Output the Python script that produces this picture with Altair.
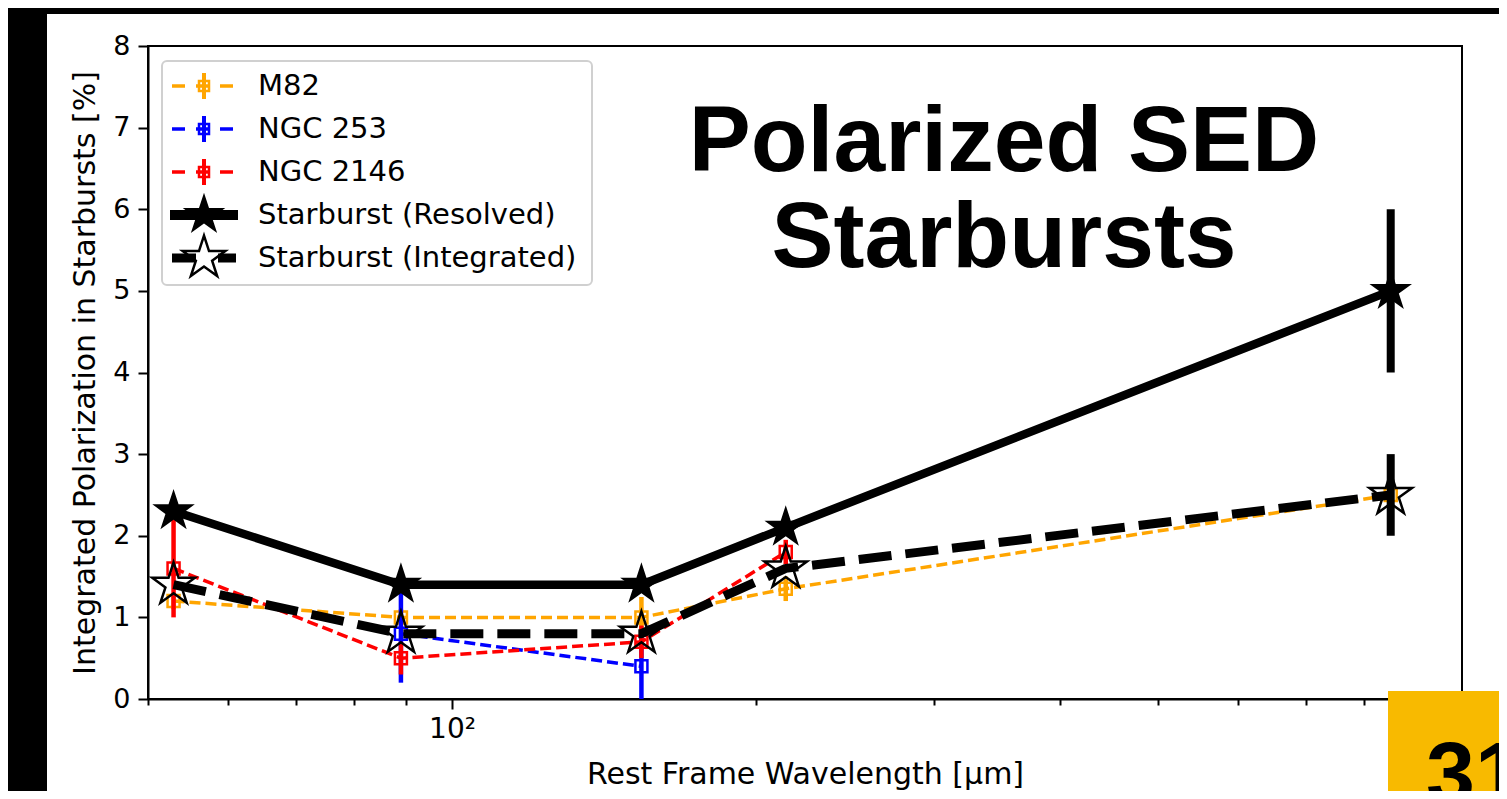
import altair as alt
import pandas as pd

# ---------------- data ----------------
m82_wl = [53, 89, 154, 214, 850]
m82_pol = [1.2, 1.0, 1.0, 1.35, 2.5]
m82_err = [0.1, 0.1, 0.25, 0.15, 0.1]

ngc253_wl = [89, 154]
ngc253_pol = [0.8, 0.4]
ngc253_err = [0.6, 0.4]

ngc2146_wl = [53, 89, 154, 214]
ngc2146_pol = [1.6, 0.5, 0.7, 1.8]
ngc2146_err = [0.6, 0.2, 0.2, 0.15]

resolved_wl = [53, 89, 154, 214, 850]
resolved_pol = [2.3, 1.4, 1.4, 2.1, 5.0]
resolved_err = [0, 0, 0, 0, 1.0]

integrated_wl = [53, 89, 154, 214, 850]
integrated_pol = [1.4, 0.8, 0.8, 1.6, 2.5]
integrated_err = [0, 0, 0, 0, 0.5]

series_names = ["M82", "NGC 253", "NGC 2146", "Starburst (Resolved)", "Starburst (Integrated)"]
series_colors = ["#FFA500", "#0000FF", "#FF0000", "#000000", "#000000"]

x_tick_values = [50, 60, 70, 80, 90, 100, 200, 300, 400, 500, 600, 700, 800, 900]
y_tick_values = [0, 1, 2, 3, 4, 5, 6, 7, 8]

title_text = "Polarized SED\nStarbursts"
slide_number = "31"
x_title = "Rest Frame Wavelength [μm]"
y_title = "Integrated Polarization in Starbursts [%]"

# ---------------- table ----------------
rows = []
for name, wls, pols, errs in zip(
    series_names,
    [m82_wl, ngc253_wl, ngc2146_wl, resolved_wl, integrated_wl],
    [m82_pol, ngc253_pol, ngc2146_pol, resolved_pol, integrated_pol],
    [m82_err, ngc253_err, ngc2146_err, resolved_err, integrated_err],
):
    for w, p, e in zip(wls, pols, errs):
        rows.append(dict(name=name, wl=w, pol=p, err=e, lo=p - e, hi=p + e))
df = pd.DataFrame(rows)
leg_df = pd.DataFrame({"name": series_names})

FONT = "DejaVu Sans"
STAR = ("M0,-1L0.2245,-0.309L0.9511,-0.309L0.3633,0.118L0.5878,0.809L0,0.382"
        "L-0.5878,0.809L-0.3633,0.118L-0.9511,-0.309L-0.2245,-0.309Z")

xscale = alt.Scale(type="log", domain=[50, 1000], nice=False)
yscale = alt.Scale(domain=[0, 8], nice=False, zero=False)

xaxis = alt.Axis(
    values=x_tick_values,
    labelExpr="datum.value == 100 ? '10²' : ''",
    tickSize={"condition": {"test": "datum.value == 100", "value": 10}, "value": 6},
    labelFontSize=28, titleFontSize=30, labelPadding=6, titlePadding=16,
    labelFlush=False, grid=False,
)
yaxis = alt.Axis(
    values=y_tick_values, tickSize=10, labelFontSize=27, titleFontSize=30,
    labelPadding=8, titlePadding=12, grid=False,
)


def X():
    return alt.X("wl:Q", scale=xscale, axis=xaxis, title=x_title)


def Y(field):
    return alt.Y(f"{field}:Q", scale=yscale, axis=yaxis, title=y_title)


def series(name, color, dash, lw, ew, marker):
    base = alt.Chart(df).transform_filter(alt.datum.name == name)
    err = base.transform_filter(alt.datum.err > 0).mark_rule(
        color=color, strokeWidth=ew
    ).encode(x=X(), y=Y("lo"), y2="hi:Q")
    line_kw = dict(color=color, strokeWidth=lw, strokeJoin="round")
    if dash:
        line_kw["strokeDash"] = dash
    line = base.mark_line(**line_kw).encode(x=X(), y=Y("pol"), order="wl:Q")
    if marker == "square":
        pts = base.mark_point(shape="square", size=144, filled=False, strokeWidth=2.5,
                              color=color, opacity=1)
    elif marker == "star_filled":
        pts = base.mark_point(shape=STAR, size=2000, filled=True, color=color, opacity=1)
    else:
        pts = base.mark_point(shape=STAR, size=2000, filled=False, strokeWidth=2.5,
                              color=color, opacity=1)
    pts = pts.encode(x=X(), y=Y("pol"))
    return [err, line, pts]


data_layers = []
data_layers += series(series_names[0], series_colors[0], [11, 5], 3.5, 4.5, "square")
data_layers += series(series_names[1], series_colors[1], [11, 5], 3.5, 4.5, "square")
data_layers += series(series_names[2], series_colors[2], [11, 5], 3.5, 4.5, "square")
data_layers += series(series_names[3], series_colors[3], None, 8.5, 8, "star_filled")
data_layers += series(series_names[4], series_colors[4], [33, 14], 9, 8, "star_open")
data_group = alt.layer(*data_layers)

# ---------------- legend ----------------
LY = alt.Y("name:N", scale=alt.Scale(type="point", domain=series_names, range=[40, 212], padding=0),
           axis=None)
LC = alt.Color("name:N", scale=alt.Scale(domain=series_names, range=series_colors), legend=None)
one = alt.Data(values=[{}])
lbase = alt.Chart(leg_df)
gal = alt.FieldOneOfPredicate(field="name", oneOf=series_names[:3])

frame = alt.Chart(one).mark_rect(fill="white", stroke="#d0d0d0", strokeWidth=2, cornerRadius=5).encode(
    x=alt.value(14), x2=alt.value(444), y=alt.value(15), y2=alt.value(239))
gal_lines = lbase.transform_filter(gal).mark_rule(strokeDash=[13, 11], strokeWidth=3.5).encode(
    x=alt.value(24), x2=alt.value(88), y=LY, color=LC)
res_line = lbase.transform_filter(alt.datum.name == series_names[3]).mark_rule(strokeWidth=10).encode(
    x=alt.value(22), x2=alt.value(90), y=LY, color=LC)
int_line = lbase.transform_filter(alt.datum.name == series_names[4]).mark_rule(
    strokeWidth=9, strokeDash=[24, 22]).encode(x=alt.value(24), x2=alt.value(88), y=LY, color=LC)
gal_err = lbase.transform_filter(gal).mark_point(shape="stroke", angle=90, size=676, strokeWidth=4,
                                                 filled=False, opacity=1).encode(
    x=alt.value(56), y=LY, color=LC)
gal_sq = lbase.transform_filter(gal).mark_point(shape="square", size=100, strokeWidth=2.5,
                                                filled=False, opacity=1).encode(
    x=alt.value(56), y=LY, color=LC)
res_star = lbase.transform_filter(alt.datum.name == series_names[3]).mark_point(
    shape=STAR, size=2000, filled=True, opacity=1).encode(x=alt.value(56), y=LY, color=LC)
int_star = lbase.transform_filter(alt.datum.name == series_names[4]).mark_point(
    shape=STAR, size=2000, filled=False, strokeWidth=2.5, opacity=1).encode(x=alt.value(56), y=LY, color=LC)
leg_text = lbase.mark_text(align="left", baseline="middle", font=FONT, fontSize=29, color="black").encode(
    x=alt.value(110), y=LY, text="name:N")
legend_group = alt.layer(frame, gal_lines, res_line, int_line, gal_err, gal_sq, res_star, int_star, leg_text)

# ---------------- slide decorations ----------------
top_band = alt.Chart(one).mark_rect(color="black").encode(
    x=alt.value(-140), x2=alt.value(1351), y=alt.value(-38), y2=alt.value(-32))
left_band = alt.Chart(one).mark_rect(color="black").encode(
    x=alt.value(-140), x2=alt.value(-101), y=alt.value(-38), y2=alt.value(745))
yellow = alt.Chart(one).mark_rect(color="#F8BA00").encode(
    x=alt.value(1240), x2=alt.value(1351), y=alt.value(645), y2=alt.value(745))
num = alt.Chart(pd.DataFrame({"t": [slide_number]})).mark_text(
    font="Liberation Sans", fontWeight="bold", fontSize=88, align="left", baseline="alphabetic",
    color="black").encode(x=alt.value(1278), y=alt.value(757), text="t:N")
big_title = alt.Chart(pd.DataFrame({"t": [title_text]})).mark_text(
    font="Liberation Sans", fontWeight="bold", fontSize=93, align="center", baseline="alphabetic",
    lineBreak="\n", lineHeight=96, color="black").encode(x=alt.value(856), y=alt.value(125), text="t:N")
deco_group = alt.layer(top_band, left_band, yellow, num, big_title)

chart = alt.layer(data_group, legend_group, deco_group).resolve_scale(y="independent").properties(
    width=1314, height=653,
    autosize=alt.AutoSizeParams(type="none"),
    padding={"left": 140, "top": 38, "right": 37, "bottom": 92},
    background="white",
).configure_view(stroke="black", strokeWidth=2, fill="white").configure_axis(
    labelFont=FONT, titleFont=FONT, labelColor="black", titleColor="black",
    domainColor="black", tickColor="black", domainWidth=2, tickWidth=2,
    titleFontWeight="normal",
)

chart.save("out.html", embed_options={"renderer": "svg", "actions": False})
